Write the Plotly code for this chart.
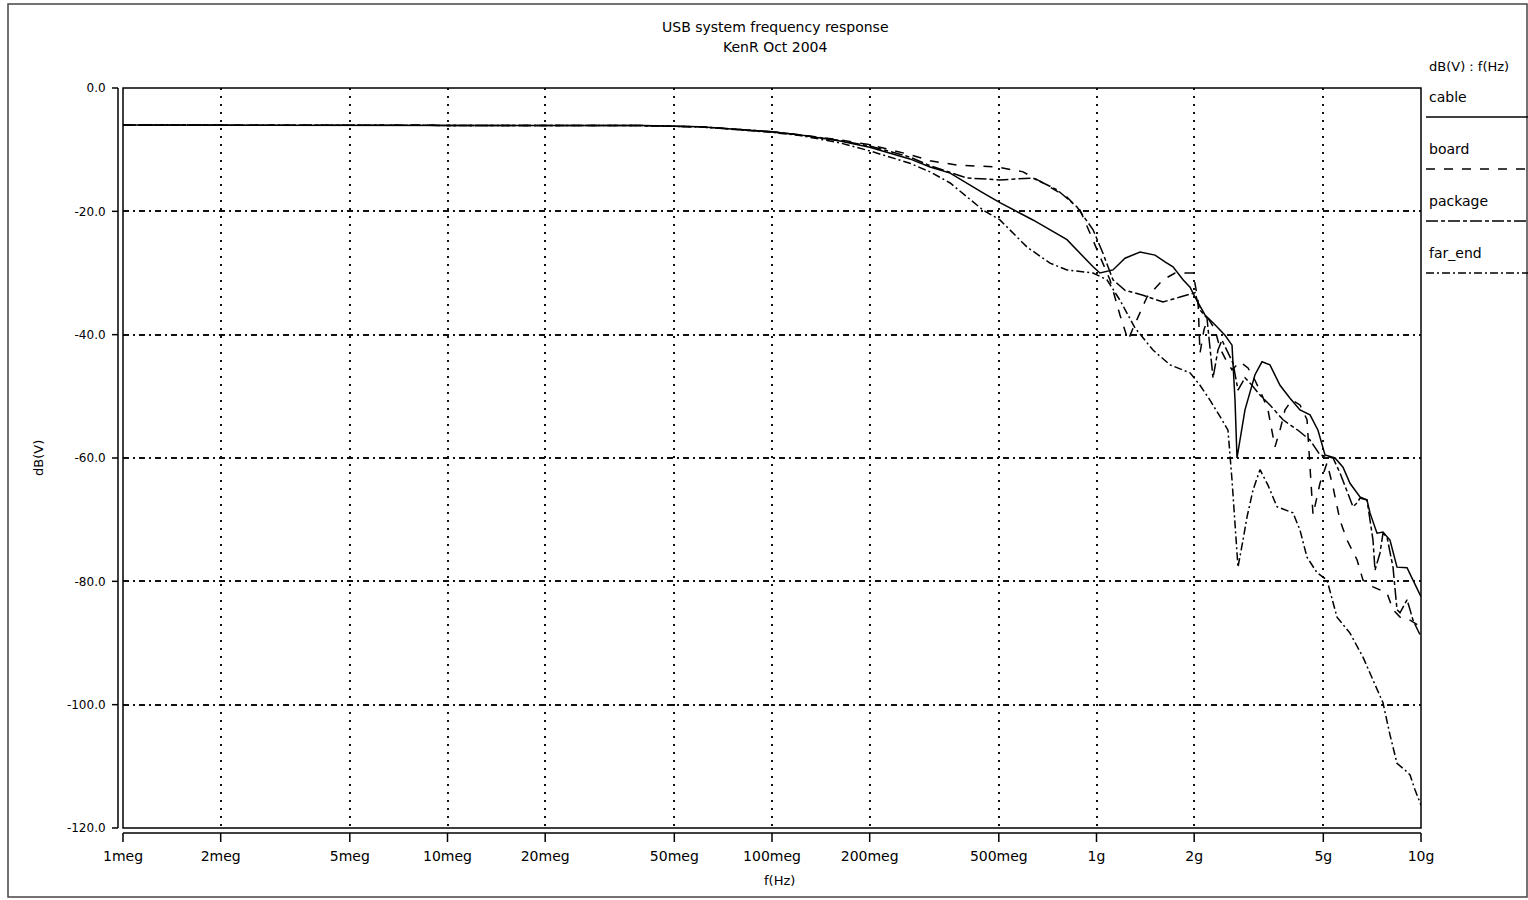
import math
import plotly.graph_objects as go

# ---- data: dB(V) versus frequency (Hz) for the four probe points ----
cable_f = [1e6, 3.5e6, 10e6, 20e6, 40e6, 60e6, 80e6, 100e6, 122e6, 162e6, 200e6, 266e6,
           307e6, 354e6, 447e6, 504e6, 637e6, 811e6, 976e6, 1.025e9, 1.124e9, 1.224e9,
           1.362e9, 1.515e9, 1.626e9, 1.721e9, 1.848e9, 1.942e9, 2.012e9, 2.159e9,
           2.318e9, 2.489e9, 2.616e9, 2.672e9, 2.710e9, 2.768e9, 2.868e9, 3.079e9,
           3.236e9, 3.424e9, 3.677e9, 3.948e9, 4.238e9, 4.550e9, 4.815e9, 5.060e9,
           5.433e9, 5.749e9, 6.042e9, 6.486e9, 6.817e9, 6.963e9, 7.318e9, 7.636e9,
           8.025e9, 8.434e9, 9.056e9, 9.448e9, 10e9]
cable_db = [-6.0, -6.0, -6.0, -6.0, -6.1, -6.3, -6.8, -7.1, -7.6, -8.6, -9.6, -11.5,
            -12.8, -13.8, -17.0, -18.6, -21.4, -24.6, -29.0, -30.0, -29.5, -27.6,
            -26.6, -27.1, -28.2, -29.0, -31.1, -32.3, -33.9, -36.8,
            -38.4, -40.1, -41.7, -50.6, -60.0, -57.1, -52.2, -46.5,
            -44.4, -44.9, -48.2, -50.3, -52.2, -53.0, -55.5, -59.5,
            -60.0, -61.5, -64.1, -66.3, -66.8, -68.9, -72.2, -72.0,
            -73.3, -77.7, -77.8, -79.8, -82.5]

board_f = [1e6, 3.5e6, 10e6, 20e6, 40e6, 60e6, 80e6, 100e6, 122e6, 162e6, 200e6, 266e6,
           307e6, 372e6, 494e6, 594e6, 684e6, 811e6, 890e6, 976e6, 1.100e9, 1.181e9,
           1.251e9, 1.290e9, 1.431e9, 1.603e9, 1.746e9, 1.984e9, 2.055e9, 2.084e9,
           2.144e9, 2.206e9, 2.318e9, 2.402e9, 2.506e9, 2.616e9, 2.768e9, 2.930e9,
           3.079e9, 3.236e9, 3.376e9, 3.548e9, 3.677e9, 3.810e9, 4.004e9, 4.238e9,
           4.454e9, 4.648e9, 4.884e9, 5.133e9, 5.356e9, 5.627e9, 5.915e9, 6.350e9,
           6.626e9, 7.113e9, 7.856e9, 8.198e9, 8.616e9, 9.251e9, 10e9]
board_db = [-6.0, -6.0, -6.0, -6.0, -6.1, -6.3, -6.8, -7.1, -7.6, -8.4, -9.2, -10.8,
            -11.8, -12.5, -12.8, -13.6, -15.4, -17.7, -19.8, -24.6, -31.1, -36.8,
            -40.9, -39.2, -33.9, -31.1, -30.0, -30.0, -34.4, -43.0,
            -39.2, -37.3, -39.2, -42.2, -44.1, -45.7, -44.4, -45.4,
            -47.4, -49.8, -52.2, -58.2, -55.5, -52.2, -50.6, -51.4,
            -53.8, -69.2, -64.1, -60.8, -64.7, -70.1, -73.3, -76.5,
            -79.8, -80.9, -81.9, -84.6, -85.8, -86.3, -87.4]

package_f = [1e6, 3.5e6, 10e6, 20e6, 40e6, 60e6, 80e6, 100e6, 122e6, 162e6, 200e6, 266e6,
             307e6, 399e6, 504e6, 637e6, 756e6, 871e6, 976e6, 1.047e9, 1.124e9, 1.224e9,
             1.391e9, 1.603e9, 1.809e9, 2.012e9, 2.084e9, 2.190e9, 2.286e9, 2.368e9,
             2.436e9, 2.542e9, 2.634e9, 2.729e9, 2.868e9, 3.014e9, 3.190e9, 3.424e9,
             3.756e9, 4.178e9, 4.550e9, 4.884e9, 5.356e9, 5.627e9, 5.915e9, 6.172e9,
             6.350e9, 6.486e9, 6.817e9, 6.963e9, 7.113e9, 7.215e9, 7.475e9, 7.636e9,
             7.856e9, 8.198e9, 8.434e9, 8.616e9, 9.056e9, 9.251e9, 9.448e9, 10e9]
package_db = [-6.0, -6.0, -6.0, -6.0, -6.1, -6.3, -6.8, -7.1, -7.6, -8.5, -9.4, -11.2,
              -12.6, -14.6, -14.9, -14.6, -16.5, -19.3, -23.0, -26.8, -31.1, -32.8,
              -33.6, -34.7, -33.9, -33.2, -36.0, -37.3, -47.0, -42.5,
              -40.9, -42.8, -44.6, -49.0, -47.0, -48.2, -49.8, -51.4,
              -53.8, -55.5, -57.1, -59.5, -60.0, -62.4, -65.2, -67.9,
              -67.3, -66.5, -66.8, -70.1, -73.3, -78.2, -75.4, -72.2,
              -72.8, -77.7, -84.6, -85.1, -83.0, -84.6, -86.3, -89.0]

far_end_f = [1e6, 3.5e6, 10e6, 20e6, 40e6, 60e6, 80e6, 100e6, 122e6, 162e6, 200e6, 266e6,
             307e6, 354e6, 447e6, 504e6, 611e6, 719e6, 811e6, 976e6, 1.077e9, 1.181e9,
             1.314e9, 1.493e9, 1.685e9, 1.942e9, 2.084e9, 2.237e9, 2.436e9, 2.542e9,
             2.616e9, 2.691e9, 2.729e9, 2.828e9, 2.909e9, 3.036e9, 3.190e9, 3.376e9,
             3.599e9, 4.033e9, 4.238e9, 4.454e9, 4.781e9, 5.133e9, 5.510e9, 6.042e9,
             6.626e9, 7.113e9, 7.636e9, 8.025e9, 8.434e9, 8.928e9, 9.251e9, 9.583e9, 10e9]
far_end_db = [-6.0, -6.0, -6.0, -6.0, -6.1, -6.3, -6.8, -7.2, -7.7, -8.9, -10.2, -12.2,
              -13.6, -15.4, -19.8, -21.4, -25.8, -28.4, -29.5, -30.0, -31.1, -34.4,
              -38.9, -42.5, -44.9, -46.2, -48.2, -50.6, -53.8, -55.5,
              -63.6, -73.3, -77.7, -73.3, -69.6, -65.2, -61.9, -64.4,
              -67.9, -68.9, -71.7, -76.1, -78.6, -79.8, -85.8, -88.4,
              -92.3, -96.0, -99.7, -104.9, -109.5, -110.6, -111.4, -113.8, -116.3]

series_names = ["cable", "board", "package", "far_end"]
series_dash = ["solid", "dash", "12px,3px,4px,3px", "8px,3px,2px,3px"]

x_tickvals = [1e6, 2e6, 5e6, 1e7, 2e7, 5e7, 1e8, 2e8, 5e8, 1e9, 2e9, 5e9, 1e10]
x_ticktext = ["1meg", "2meg", "5meg", "10meg", "20meg", "50meg", "100meg",
              "200meg", "500meg", "1g", "2g", "5g", "10g"]
y_tickvals = [0, -20, -40, -60, -80, -100, -120]
y_ticktext = ["0.0", "-20.0", "-40.0", "-60.0", "-80.0", "-100.0", "-120.0"]

FONT = "DejaVu Sans"
W, H = 1528, 900
L, R, T, B = 123, 107, 88, 72
PW, PH = W - L - R, H - T - B


def px(xp):
    """Horizontal pixel offset -> paper coordinate."""
    return (xp - L) / PW


def py(yp):
    """Vertical pixel offset from top -> paper coordinate."""
    return (H - B - yp) / PH


def label(text, x, y, size=13, xanchor="center", angle=0):
    return dict(text=text, x=px(x), y=py(y), xref="paper", yref="paper",
                xanchor=xanchor, yanchor="middle", textangle=angle, showarrow=False,
                font=dict(family=FONT, size=size, color="black"))


fig = go.Figure()
for name, f, db, dash in zip(series_names,
                             [cable_f, board_f, package_f, far_end_f],
                             [cable_db, board_db, package_db, far_end_db],
                             series_dash):
    fig.add_trace(go.Scatter(x=f, y=db, mode="lines", name=name, showlegend=False,
                             line=dict(color="black", width=1.5, dash=dash)))

shapes = []
# plot frame
shapes.append(dict(type="rect", xref="paper", yref="paper", x0=0, x1=1, y0=0, y1=1,
                   line=dict(color="black", width=1.5), layer="above"))
# outer window border
shapes.append(dict(type="rect", xref="paper", yref="paper",
                   x0=px(8), x1=px(1527), y0=py(897), y1=py(4),
                   line=dict(color="#444", width=1.5)))
# offset y axis with its ticks
shapes.append(dict(type="line", xref="paper", yref="paper", x0=px(118), x1=px(118),
                   y0=0, y1=1, line=dict(color="black", width=1.5)))
for v in y_tickvals:
    yy = (v + 120) / 120
    shapes.append(dict(type="line", xref="paper", yref="paper", x0=px(112), x1=px(118),
                       y0=yy, y1=yy, line=dict(color="black", width=1.5)))
# offset x axis with its ticks
shapes.append(dict(type="line", xref="paper", yref="paper", x0=0, x1=1,
                   y0=py(833), y1=py(833), line=dict(color="black", width=1.5)))
for v in x_tickvals:
    xx = math.log10(v / 1e6) / 4
    shapes.append(dict(type="line", xref="paper", yref="paper", x0=xx, x1=xx,
                       y0=py(833), y1=py(842), line=dict(color="black", width=1.5)))

annotations = [
    label("USB system frequency response", 775, 27, size=14),
    label("KenR Oct 2004", 775, 47, size=14),
    label("dB(V)", 38, 458, angle=-90),
    label("f(Hz)", 779, 880),
    label("dB(V) : f(Hz)", 1427, 67, xanchor="left"),
]

legend_text_y = [97, 149, 201, 253]
for name, dash, ty in zip(series_names, series_dash, legend_text_y):
    annotations.append(label(name, 1427, ty, size=14, xanchor="left"))
    shapes.append(dict(type="line", xref="paper", yref="paper", x0=px(1426), x1=px(1528),
                       y0=py(ty + 20), y1=py(ty + 20),
                       line=dict(color="black", width=1.4, dash=dash)))

fig.update_layout(
    width=W, height=H,
    margin=dict(l=L, r=R, t=T, b=B),
    template="none",
    paper_bgcolor="white", plot_bgcolor="white",
    showlegend=False,
    xaxis=dict(type="log", range=[6, 10], tickvals=x_tickvals, ticktext=x_ticktext,
               showgrid=True, gridcolor="#111", gridwidth=1.5, griddash="2px,6px",
               zeroline=False, showline=False, ticks="outside", ticklen=15,
               tickcolor="rgba(0,0,0,0)",
               tickfont=dict(family=FONT, size=14, color="black")),
    yaxis=dict(range=[-120, 0], tickvals=y_tickvals, ticktext=y_ticktext,
               showgrid=True, gridcolor="#111", gridwidth=1.5, griddash="6px,4px,2px,4px",
               zeroline=False, showline=False, ticks="outside", ticklen=14,
               tickcolor="rgba(0,0,0,0)",
               tickfont=dict(family=FONT, size=12, color="black")),
    shapes=shapes,
    annotations=annotations,
)

fig.write_html("out.html")
